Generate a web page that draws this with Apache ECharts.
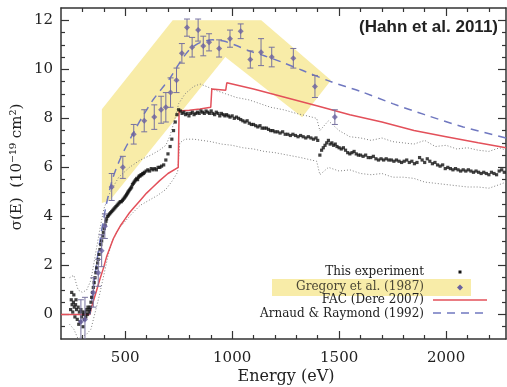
<!DOCTYPE html>
<html><head><meta charset="utf-8">
<script src="https://cdn.jsdelivr.net/npm/echarts@6/dist/echarts.min.js"></script>
<style>html,body{margin:0;padding:0;background:#fff}#c{width:507px;height:387px}</style>
</head><body><div id="c"></div>
<script>
// ---- axis ticks ----
const xMajorTicks = [500, 1000, 1500, 2000];
const xMinorTicks = [300, 400, 600, 700, 800, 900, 1100, 1200, 1300, 1400, 1600, 1700, 1800, 1900, 2100, 2200];
const yMajorTicks = [0, 2, 4, 6, 8, 10, 12];
const yMinorTicks = [-0.5, 0.5, 1, 1.5, 2.5, 3, 3.5, 4.5, 5, 5.5, 6.5, 7, 7.5, 8.5, 9, 9.5, 10.5, 11, 11.5];

// ---- highlighted region around Gregory et al. data (E, sigma) ----
const gregoryBand = [[391, 8.37], [722, 12.0], [1136, 12.0], [1462, 9.55], [1327, 8.04], [968, 10.5], [428, 4.65], [391, 4.55]];

// ---- This experiment (E eV, sigma) ----
const experiment = [
 [245,0.2],[248,0.6],[250,0.9],[252,0.4],[255,0.1],[258,0.5],[260,0.8],[262,0.3],[265,-0.1],[268,0.4],[270,0.6],[273,0.2],[276,-0.2],[280,0.3],[283,-0.4],[286,0.1],[290,-0.3],[293,0.2],[296,-0.1],[300,0.1],[303,-0.5],[306,0.0],[310,-0.2],[313,0.1],[316,-0.1],[320,0.2],[323,0.0],[326,0.3],[330,0.1],[333,0.2],
 [336,0.3],[340,0.5],[343,0.7],[347,0.9],[351,1.1],[355,1.3],[359,1.5],[363,1.7],[367,1.9],[371,2.1],[374,2.25],[378,2.45],[382,2.65],[386,2.85],[390,3.0],[394,3.2],[398,3.35],[402,3.5],[406,3.65],[410,3.8],[413,3.9],[418,4.0],[422,4.05],[427,4.1],[432,4.15],[437,4.2],[442,4.25],[447,4.3],[452,4.35],[457,4.4],[462,4.45],[467,4.5],[472,4.55],[477,4.6],[482,4.6],[487,4.65],[491,4.7],[496,4.75],[500,4.8],[504,4.85],[507,4.9],[511,4.95],[514,5.0],[518,5.05],[522,5.1],[526,5.15],[530,5.2],[534,5.3],[538,5.35],[542,5.4],[546,5.45],[550,5.5],[554,5.55],[558,5.5],[562,5.6],[566,5.65],[570,5.65],[574,5.7],[578,5.7],[582,5.75],[586,5.75],[590,5.8],[598,5.85],[606,5.9],[614,5.85],[622,5.95],[630,5.9],[638,5.95],[646,5.9],[654,6.0],[662,6.0],[670,6.05],[680,6.1],[690,6.3],[700,6.55],[710,6.85],[718,7.15],[726,7.5],[734,7.85],[742,8.15],[750,8.35],
 [758,8.3],[766,8.2],[774,8.25],[782,8.15],[790,8.2],[798,8.1],[806,8.2],[814,8.25],[822,8.15],[830,8.2],[838,8.25],[846,8.2],[854,8.3],[862,8.25],[870,8.2],[878,8.3],[886,8.25],[894,8.2],[902,8.3],[910,8.2],[918,8.15],[926,8.25],[934,8.2],[942,8.1],[950,8.2],[958,8.15],[966,8.1],[974,8.15],[982,8.1],[990,8.05],[1000,8.1],[1010,8.0],[1020,8.05],[1030,8.0],[1040,7.95],[1050,7.9],[1060,7.85],[1070,7.9],[1080,7.8],[1090,7.75],[1100,7.75],[1110,7.7],[1120,7.65],[1130,7.7],[1140,7.6],[1150,7.6],[1160,7.6],[1170,7.55],[1180,7.5],[1190,7.5],[1200,7.45],[1212,7.45],[1224,7.4],[1236,7.45],[1248,7.35],[1260,7.35],[1272,7.3],[1284,7.35],[1296,7.3],[1308,7.25],[1320,7.3],[1332,7.25],[1344,7.2],[1356,7.25],[1368,7.2],[1380,7.15],[1392,7.2],[1400,7.1],
 [1410,6.5],[1418,6.7],[1426,6.8],[1434,6.9],[1442,7.0],[1450,7.1],[1458,6.95],[1466,7.0],[1474,6.9],[1482,6.95],[1490,6.85],[1500,6.8],[1510,6.75],[1520,6.8],[1530,6.7],[1540,6.6],[1550,6.55],[1560,6.6],[1570,6.65],[1580,6.55],[1590,6.5],[1600,6.5],[1612,6.45],[1624,6.5],[1636,6.4],[1648,6.4],[1660,6.45],[1672,6.35],[1684,6.3],[1696,6.35],[1708,6.3],[1720,6.35],[1732,6.3],[1744,6.3],[1756,6.25],[1768,6.3],[1780,6.25],[1792,6.2],[1804,6.25],[1816,6.3],[1828,6.2],[1840,6.25],[1852,6.15],[1864,6.2],[1876,6.4],[1888,6.3],[1900,6.2],[1912,6.35],[1924,6.25],[1936,6.15],[1948,6.2],[1960,6.1],[1972,6.05],[1984,6.1],[1996,5.95],[2008,6.0],[2020,5.95],[2032,5.9],[2044,5.95],[2056,5.9],[2068,5.85],[2080,5.9],[2092,5.85],[2104,5.9],[2116,5.85],[2128,5.8],[2140,5.85],[2152,5.8],[2164,5.75],[2176,5.8],[2188,5.75],[2200,5.7],[2212,5.8],[2224,5.75],[2236,5.7],[2248,5.85],[2260,5.9],[2272,5.8]
];

// ---- uncertainty bounds of this experiment ----
const expUpper = [[240,1.5],[260,1.6],[280,1.0],[300,0.9],[320,1.0],[340,1.4],[360,2.4],[380,3.4],[400,4.3],[430,5.0],[470,5.6],[520,6.0],[570,6.3],[620,6.5],[660,6.7],[690,6.9],[710,7.3],[730,7.9],[750,8.6],[780,9.0],[820,9.3],[850,9.4],[880,9.3],[920,9.15],[970,9.0],[1020,8.85],[1080,8.75],[1130,8.6],[1180,8.45],[1240,8.35],[1300,8.2],[1350,8.1],[1395,8.0],[1410,7.5],[1450,7.9],[1500,7.5],[1550,7.25],[1600,7.2],[1650,7.1],[1700,7.2],[1750,7.05],[1800,7.0],[1850,6.95],[1900,7.1],[1950,6.85],[2000,6.9],[2050,6.75],[2100,6.8],[2150,6.7],[2200,6.65],[2250,6.8],[2280,6.7]];
const expLower = [[240,-0.4],[260,-0.6],[280,-1.0],[300,-0.9],[320,-0.8],[340,-0.6],[360,0.1],[380,0.8],[400,1.6],[420,2.4],[440,3.0],[470,3.5],[500,3.8],[530,4.1],[570,4.45],[610,4.65],[650,4.85],[690,5.1],[720,5.45],[745,5.8],[755,7.0],[780,7.15],[820,7.15],[860,7.1],[900,7.05],[950,6.95],[1000,6.9],[1050,6.8],[1100,6.75],[1150,6.65],[1200,6.6],[1260,6.5],[1320,6.4],[1395,6.25],[1410,5.7],[1450,6.0],[1500,5.85],[1550,5.9],[1600,5.75],[1650,5.7],[1700,5.75],[1750,5.6],[1800,5.6],[1850,5.55],[1900,5.4],[1950,5.35],[2000,5.3],[2050,5.25],[2100,5.2],[2150,5.2],[2200,5.15],[2250,5.3],[2280,5.4]];

// ---- Gregory et al. (1987): E, sigma, error ----
const gregory = [[293,-0.3,0.9],[312,-0.2,0.9],[351,0.9,0.6],[374,1.7,0.55],[390,2.6,0.65],[405,3.6,0.5],[437,5.2,0.55],[489,6.0,0.45],[540,7.35,0.4],[589,7.9,0.45],[636,8.05,0.5],[668,8.35,0.55],[690,8.45,0.6],[712,9.05,0.6],[740,9.55,0.5],[765,10.65,0.4],[789,11.7,0.35],[813,10.9,0.4],[841,11.6,0.45],[865,10.95,0.4],[892,11.1,0.35],[939,10.85,0.35],[990,11.25,0.35],[1040,11.55,0.3],[1085,10.4,0.35],[1135,10.7,0.55],[1185,10.5,0.4],[1286,10.45,0.4],[1387,9.3,0.45],[1480,8.05,0.3]];

// ---- FAC (Dere 2007) ----
const fac = [[200,0],[335,0],[343,0.3],[355,0.65],[367,1.0],[382,1.45],[397,1.85],[413,2.35],[430,2.75],[445,3.1],[460,3.35],[480,3.65],[500,3.9],[520,4.15],[540,4.35],[570,4.65],[600,4.95],[630,5.2],[660,5.45],[700,5.75],[748,6.0],[752,8.3],[800,8.33],[850,8.38],[900,8.45],[905,9.2],[970,9.15],[975,9.45],[1100,9.2],[1250,8.85],[1400,8.5],[1550,8.15],[1700,7.85],[1850,7.5],[2000,7.25],[2150,7.0],[2280,6.8]];

// ---- Arnaud & Raymond (1992) ----
const arnaud = [[335,0],[350,1.0],[365,2.0],[380,2.9],[395,3.7],[410,4.4],[425,5.0],[440,5.5],[460,6.0],[490,6.6],[520,7.1],[550,7.6],[590,8.2],[630,8.75],[670,9.2],[710,9.65],[750,10.2],[790,10.7],[830,11.0],[870,11.15],[910,11.2],[960,11.15],[1010,11.0],[1080,10.75],[1150,10.55],[1230,10.3],[1330,9.95],[1460,9.5],[1600,9.1],[1750,8.6],[1900,8.15],[2080,7.65],[2280,7.2]];

const XMIN = 200, XMAX = 2280, YMIN = -1, YMAX = 12.5;
const YEL = '#f8eca8', RED = '#e3505a', BLUE = '#7078c0', PUR = '#6a62a0', GRAY = '#808080';
const serif = 'DejaVu Serif';

function xAx(pos, ticks, len, labels, line) {
  return {
    type: 'value', min: XMIN, max: XMAX, position: pos, gridIndex: 0,
    axisLine: { show: line, onZero: false, lineStyle: { color: '#333', width: 1.5 } },
    axisTick: { show: true, inside: true, length: len, customValues: ticks, lineStyle: { color: '#333', width: 1.2 } },
    axisLabel: labels ? { show: true, customValues: ticks, margin: 12, fontFamily: serif, fontSize: 15, color: '#222', formatter: v => String(v) } : { show: false },
    splitLine: { show: false }
  };
}
function yAx(pos, ticks, len, labels, line) {
  return {
    type: 'value', min: YMIN, max: YMAX, position: pos, gridIndex: 0,
    axisLine: { show: line, onZero: false, lineStyle: { color: '#333', width: 1.5 } },
    axisTick: { show: true, inside: true, length: len, customValues: ticks, lineStyle: { color: '#333', width: 1.2 } },
    axisLabel: labels ? { show: true, customValues: ticks, margin: 8, fontFamily: serif, fontSize: 15, color: '#222', formatter: v => String(v) } : { show: false },
    splitLine: { show: false }
  };
}

const chart = echarts.init(document.getElementById('c'), null, { renderer: 'canvas' });
chart.setOption({
  animation: false,
  backgroundColor: '#fff',
  grid: { left: 61, top: 8, width: 445, height: 331, containLabel: false },
  xAxis: [
    xAx('bottom', xMajorTicks, 8, true, true),
    xAx('bottom', xMinorTicks, 4, false, false),
    xAx('top', xMajorTicks, 8, false, true),
    xAx('top', xMinorTicks, 4, false, false)
  ],
  yAxis: [
    yAx('left', yMajorTicks, 8, true, true),
    yAx('left', yMinorTicks, 4, false, false),
    yAx('right', yMajorTicks, 8, false, true),
    yAx('right', yMinorTicks, 4, false, false)
  ],
  series: [
    {
      type: 'custom', name: 'band', silent: true, z: 1, data: [[XMIN, 0]],
      renderItem: (params, api) => ({
        type: 'polygon',
        shape: { points: gregoryBand.map(p => api.coord(p)) },
        style: { fill: YEL }
      })
    },
    { type: 'line', name: 'upper', data: expUpper, symbol: 'none', z: 2, lineStyle: { color: GRAY, width: 1, type: [1, 2] } },
    { type: 'line', name: 'lower', data: expLower, symbol: 'none', z: 2, lineStyle: { color: GRAY, width: 1, type: [1, 2] } },
    { type: 'line', name: 'FAC (Dere 2007)', data: fac, symbol: 'none', z: 3, lineStyle: { color: RED, width: 1.5 } },
    { type: 'line', name: 'Arnaud & Raymond (1992)', data: arnaud, symbol: 'none', z: 3, smooth: 0.3, lineStyle: { color: BLUE, width: 1.5, type: [8, 6] } },
    { type: 'scatter', name: 'This experiment', data: experiment, symbol: 'rect', symbolSize: 3.2, z: 4, itemStyle: { color: '#111' } },
    {
      type: 'custom', name: 'gregoryErr', z: 5, clip: true,
      data: gregory.map(g => [g[0], g[1] - g[2], g[1] + g[2]]),
      encode: { x: 0, y: [1, 2] },
      renderItem: (params, api) => {
        const x = api.value(0);
        const lo = api.coord([x, api.value(1)]);
        const hi = api.coord([x, api.value(2)]);
        const w = 3;
        const st = { stroke: '#77729f', lineWidth: 1 };
        return {
          type: 'group', children: [
            { type: 'line', shape: { x1: lo[0], y1: lo[1], x2: hi[0], y2: hi[1] }, style: st },
            { type: 'line', shape: { x1: lo[0] - w, y1: lo[1], x2: lo[0] + w, y2: lo[1] }, style: st },
            { type: 'line', shape: { x1: hi[0] - w, y1: hi[1], x2: hi[0] + w, y2: hi[1] }, style: st }
          ]
        };
      }
    },
    { type: 'scatter', name: 'Gregory et al. (1987)', data: gregory.map(g => [g[0], g[1]]), symbol: 'diamond', symbolSize: 6, z: 6, itemStyle: { color: PUR } }
  ],
  graphic: [
    { type: 'text', z: 10, x: 498, y: 27, style: { text: '(Hahn et al. 2011)', font: 'bold 17px "Liberation Sans", Arial, sans-serif', fill: '#222', textAlign: 'right', textVerticalAlign: 'middle' } },
    { type: 'text', z: 10, x: 286, y: 377, style: { text: 'Energy (eV)', font: '16px "DejaVu Serif"', fill: '#222', textAlign: 'center', textVerticalAlign: 'middle' } },
    { type: 'text', z: 10, x: 17, y: 167, rotation: Math.PI / 2, style: { text: 'σ(E)  (10⁻¹⁹ cm²)', font: '15px "DejaVu Serif"', fill: '#222', textAlign: 'center', textVerticalAlign: 'middle' } },
    { type: 'rect', z: 8, shape: { x: 272, y: 279, width: 199, height: 17 }, style: { fill: YEL } },
    { type: 'text', z: 10, x: 424, y: 272, style: { text: 'This experiment', font: '12px "DejaVu Serif"', fill: '#222', textAlign: 'right', textVerticalAlign: 'middle' } },
    { type: 'text', z: 10, x: 424, y: 287, style: { text: 'Gregory et al. (1987)', font: '12px "DejaVu Serif"', fill: '#4a4635', textAlign: 'right', textVerticalAlign: 'middle' } },
    { type: 'text', z: 10, x: 424, y: 300, style: { text: 'FAC (Dere 2007)', font: '12px "DejaVu Serif"', fill: '#222', textAlign: 'right', textVerticalAlign: 'middle' } },
    { type: 'text', z: 10, x: 424, y: 314, style: { text: 'Arnaud & Raymond (1992)', font: '12px "DejaVu Serif"', fill: '#222', textAlign: 'right', textVerticalAlign: 'middle' } },
    { type: 'rect', z: 10, shape: { x: 458.5, y: 270.5, width: 3, height: 3 }, style: { fill: '#111' } },
    { type: 'polygon', z: 10, shape: { points: [[460, 284.5], [463, 287.5], [460, 290.5], [457, 287.5]] }, style: { fill: PUR } },
    { type: 'line', z: 10, shape: { x1: 433, y1: 300, x2: 487, y2: 300 }, style: { stroke: RED, lineWidth: 1.5 } },
    { type: 'line', z: 10, shape: { x1: 433, y1: 313, x2: 484, y2: 313 }, style: { stroke: BLUE, lineWidth: 1.5, lineDash: [8, 6] } }
  ]
});
</script>
</body></html>
